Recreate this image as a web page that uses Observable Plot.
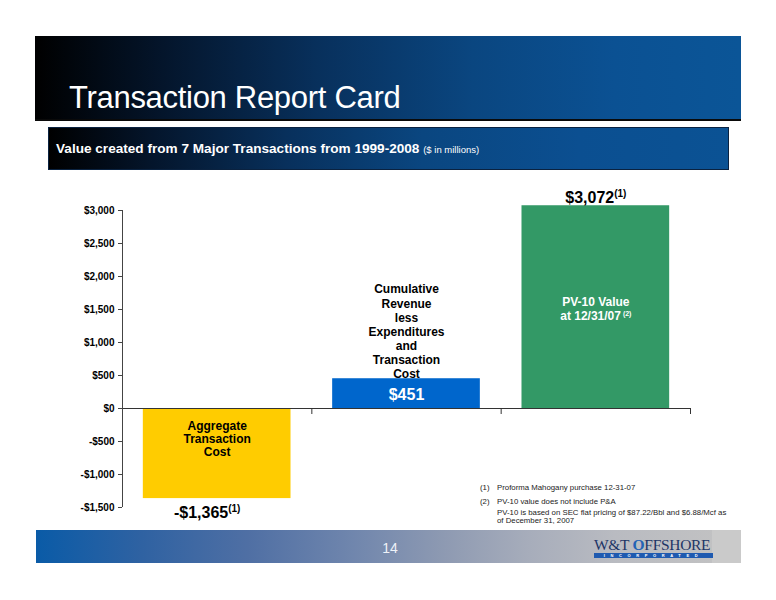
<!DOCTYPE html>
<html>
<head>
<meta charset="utf-8">
<script src="https://cdn.jsdelivr.net/npm/d3@7"></script>
<script src="https://cdn.jsdelivr.net/npm/@observablehq/plot@0.6"></script>
<style>
  html, body { margin: 0; padding: 0; background: #fff; }
  body { width: 776px; height: 600px; position: relative; overflow: hidden; font-family: "Liberation Sans", Arial, sans-serif; }
  .abs { position: absolute; }
  #header { left: 35px; top: 36px; width: 706px; height: 83px;
    background: linear-gradient(to right, #000000 0%, #04152b 18%, #08305c 40%, #0a4680 62%, #0b5193 82%, #0b5597 100%);
    border-bottom: 2px solid #0a0a0a; }
  #title { left: 69px; top: 80px; color: #fff; font-size: 31px; line-height: 36px; white-space: nowrap; letter-spacing: -0.3px; }
  #subbox { left: 48px; top: 127px; width: 679px; height: 41px;
    background: linear-gradient(to right, #000000 0%, #04152b 15%, #08305c 35%, #0a4680 55%, #0b4f91 78%, #0b5294 100%);
    border: 1px solid #0a2240; }
  #subtitle { left: 56px; top: 140px; color: #fff; font-size: 13.6px; font-weight: bold; white-space: nowrap; line-height: 18px; }
  #subtitle span { font-weight: normal; font-size: 9.5px; }
  #chart { left: 0; top: 180px; }
  .fn { font-size: 7.8px; color: #222; white-space: nowrap; line-height: 9px; }
  #footer { left: 36px; top: 530px; width: 705px; height: 33px;
    background: linear-gradient(to right, #0a5ba7 0%, #2f62a2 15%, #4f6fa4 30%, #7086ad 45%, #8e9ab2 58%, #a7adbb 70%, #b9bbc1 82%, #c3c3c3 100%); }
  #footright { left: 712px; top: 530px; width: 29px; height: 33px; background: #cacaca; }
  #pagenum { left: 380px; top: 540px; width: 20px; text-align: center; color: #eef2f8; font-size: 14px; line-height: 16px; }
  #logo { left: 594px; top: 537px; font-family: "Liberation Serif", "DejaVu Serif", serif; font-size: 15.5px; color: #1d3566; white-space: nowrap; line-height: 16px; letter-spacing: -0.3px; }
  #logo .o { color: #2463b5; font-weight: bold; }
  #inc { left: 594px; top: 553px; width: 119px; height: 5px; background: #1f5ab0; color: #fff; font-size: 4px; line-height: 5px; letter-spacing: 5.6px; text-align: center; font-weight: bold; overflow: hidden; }
</style>
</head>
<body>
<div id="header" class="abs"></div>
<div id="title" class="abs">Transaction Report Card</div>
<div id="subbox" class="abs"></div>
<div id="subtitle" class="abs">Value created from 7 Major Transactions from 1999-2008 <span>($ in millions)</span></div>
<div id="chart" class="abs"></div>
<div class="abs fn" style="left:480px; top:483px;">(1)</div>
<div class="abs fn" style="left:497px; top:483px;">Proforma Mahogany purchase 12-31-07</div>
<div class="abs fn" style="left:480px; top:497px;">(2)</div>
<div class="abs fn" style="left:497px; top:497px;">PV-10 value does not include P&amp;A</div>
<div class="abs fn" style="left:497px; top:508px;">PV-10 is based on SEC flat pricing of $87.22/Bbl and $6.88/Mcf as</div>
<div class="abs fn" style="left:497px; top:516px;">of December 31, 2007</div>
<div id="footer" class="abs"></div>
<div id="footright" class="abs"></div>
<div id="pagenum" class="abs">14</div>
<div id="logo" class="abs">W&amp;T <span class="o">O</span>FFSHORE</div>
<div id="inc" class="abs">INCORPORATED</div>
<script>
// ---- data ----
const categories = ["Aggregate Transaction Cost", "Cumulative Revenue less Expenditures and Transaction Cost", "PV-10 Value at 12/31/07"];
const values = [-1365, 451, 3072];
const valueLabels = ["-$1,365", "$451", "$3,072"];
const valueNotes = ["(1)", "", "(1)"];
const barLabels = ["Aggregate\nTransaction\nCost", "Cumulative\nRevenue\nless\nExpenditures\nand\nTransaction\nCost", "PV-10 Value\nat 12/31/07"];
const barLabelNotes = ["", "", " (2)"];
const yTicks = [-1500, -1000, -500, 0, 500, 1000, 1500, 2000, 2500, 3000];
const barColors = ["#ffcc00", "#0066cc", "#339966"];

const rows = categories.map((c, i) => ({i, category: c, value: values[i], label: valueLabels[i], note: valueNotes[i], text: barLabels[i], textNote: barLabelNotes[i]}));
const fmt = d => (d < 0 ? "-" : "") + "$" + d3.format(",")(Math.abs(d));
const cx = d => d.i + 0.5;

const chart = Plot.plot({
  width: 776,
  height: 350,
  marginLeft: 122,
  marginRight: 86,
  marginTop: 30,
  marginBottom: 23,
  style: {fontFamily: "'Liberation Sans', Arial, sans-serif", fontSize: "10px", fontWeight: "bold", color: "#000", background: "transparent"},
  x: {domain: [0, categories.length], axis: null},
  y: {domain: [yTicks[0], yTicks[yTicks.length - 1]], axis: null},
  color: {domain: categories, range: barColors},
  marks: [
    Plot.rectY(rows, {x1: d => d.i + 0.11, x2: d => d.i + 0.89, y: "value", fill: "category"}),
    Plot.ruleY([0], {stroke: "#333", strokeWidth: 1}),
    Plot.ruleX([0], {stroke: "#444", strokeWidth: 1}),
    Plot.ruleX([1, 2, 3], {y1: 0, y2: 0, insetBottom: -6, stroke: "#333"}),
    Plot.axisY({ticks: yTicks, tickFormat: fmt, tickSize: 4, tickPadding: 4, label: null, stroke: "#444", fill: "#000", fontWeight: "bold", fontSize: 10}),
    // bar labels
    Plot.text([rows[0]], {x: cx, y: 0, text: "text", lineAnchor: "top", dy: 12, fontSize: 12, fontWeight: "bold", lineHeight: 1.08, fill: "#000"}),
    Plot.text([rows[1]], {x: cx, y: "value", text: "text", lineAnchor: "bottom", dy: -1, fontSize: 12, fontWeight: "bold", lineHeight: 1.17, fill: "#000"}),
    Plot.text([rows[2]], {x: cx, y: d => d.value / 2, text: "text", lineAnchor: "middle", dy: 1, fontSize: 12, fontWeight: "bold", lineHeight: 1.17, fill: "#fff"}),
    // value labels
    Plot.text([rows[0]], {x: cx, y: "value", text: "label", lineAnchor: "top", dy: 8, dx: -10, fontSize: 16, fontWeight: "bold", fill: "#000"}),
    Plot.text([rows[1]], {x: cx, y: d => d.value / 2, text: "label", lineAnchor: "middle", dy: 1, fontSize: 16, fontWeight: "bold", fill: "#fff"}),
    Plot.text([rows[2]], {x: cx, y: "value", text: "label", lineAnchor: "bottom", dy: -3, fontSize: 16, fontWeight: "bold", fill: "#000"})
  ]
});

// superscript footnote markers appended to the matching labels
const ns = "http://www.w3.org/2000/svg";
function appendSup(el, note, size, dy) {
  const ts = document.createElementNS(ns, "tspan");
  ts.setAttribute("font-size", size);
  ts.setAttribute("dy", dy);
  ts.textContent = note;
  el.appendChild(ts);
}
rows.forEach(r => {
  const lastLine = r.text.split("\n").pop();
  chart.querySelectorAll("text").forEach(t => {
    const hasSpans = t.querySelector("tspan");
    if (r.note && !hasSpans && t.textContent === r.label) appendSup(t, r.note, 10, -6);
    if (r.textNote && hasSpans) {
      const spans = t.querySelectorAll("tspan");
      if (spans[spans.length - 1].textContent === lastLine) appendSup(t, r.textNote, 7, -4);
    }
  });
});

document.getElementById("chart").appendChild(chart);
</script>
</body>
</html>
